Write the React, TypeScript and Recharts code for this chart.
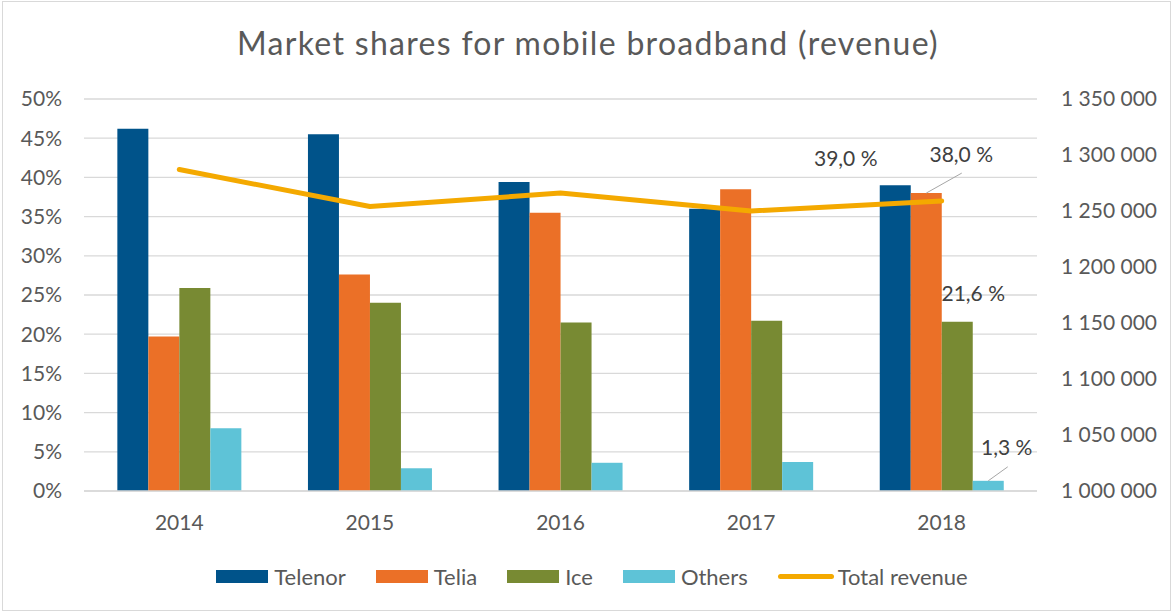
import React from 'react';
import {
  ComposedChart,
  Bar,
  Line,
  XAxis,
  YAxis,
  CartesianGrid,
  Legend,
  LabelList,
  Customized,
} from 'recharts';

// ---- data ----
const years = ['2014', '2015', '2016', '2017', '2018'];
const telenor = [46.2, 45.5, 39.4, 36.0, 39.0];
const telia = [19.7, 27.6, 35.5, 38.5, 38.0];
const ice = [25.9, 24.0, 21.5, 21.7, 21.6];
const others = [8.0, 2.9, 3.6, 3.7, 1.3];
const totalRevenue = [1287000, 1254000, 1266000, 1250000, 1259000];
const percentTicks = [0, 5, 10, 15, 20, 25, 30, 35, 40, 45, 50];
const revenueTicks = [1000000, 1050000, 1100000, 1150000, 1200000, 1250000, 1300000, 1350000];
const seriesNames = ['Telenor', 'Telia', 'Ice', 'Others', 'Total revenue'];
const labelledIndex = 4; // 2018

const data = years.map((y, i) => ({
  year: y,
  telenor: telenor[i],
  telia: telia[i],
  ice: ice[i],
  others: others[i],
  total: totalRevenue[i],
}));

// ---- styles ----
const FONT = "Lato, 'Open Sans', sans-serif";
const AXIS_COLOR = '#595959';
const LABEL_COLOR = '#404040';
const GRID = '#d9d9d9';
const COLORS = ['#00538A', '#EB7027', '#788A33', '#5EC3D7', '#F4A900'];

const fmtPct = (v: number) => `${v.toFixed(1).replace('.', ',')} %`;
const fmtRev = (v: number) => v.toLocaleString('en-US').replace(/,/g, '\u00a0');

type LabelCfg = { dx: number; dy: number; leader?: [number, number] };

const makeLabel = (cfg: LabelCfg) => (props: any) => {
  const { x, y, width, value, index } = props;
  if (index !== labelledIndex) return null;
  const cx = Number(x) + Number(width) / 2;
  const top = Number(y);
  return (
    <g>
      {cfg.leader && (
        <line
          x1={cx}
          y1={top}
          x2={cx + cfg.leader[0]}
          y2={top + cfg.leader[1]}
          stroke="#a6a6a6"
          strokeWidth={1}
        />
      )}
      <text
        x={cx + cfg.dx}
        y={top + cfg.dy}
        textAnchor="middle"
        fontSize={21}
        fontFamily={FONT}
        fill={LABEL_COLOR}
      >
        {fmtPct(Number(value))}
      </text>
    </g>
  );
};

const renderLegend = () => (
  <div
    style={{
      height: 40,
      display: 'flex',
      justifyContent: 'center',
      alignItems: 'center',
      paddingLeft: 11,
      fontFamily: FONT,
      fontSize: 22,
      color: AXIS_COLOR,
    }}
  >
    {seriesNames.map((name, i) => (
      <div
        key={name}
        style={{ display: 'flex', alignItems: 'center', marginRight: i < seriesNames.length - 1 ? 30 : 0 }}
      >
        {i < 4 ? (
          <div style={{ width: 52, height: 13, background: COLORS[i], marginRight: 6 }} />
        ) : (
          <div
            style={{ width: 56, height: 5, borderRadius: 3, background: COLORS[i], marginRight: 4 }}
          />
        )}
        <span>{name}</span>
      </div>
    ))}
  </div>
);

const Title = () => (
  <text
    x={588}
    y={55}
    textAnchor="middle"
    fontSize={32}
    letterSpacing={1.3}
    fontFamily={FONT}
    fill={AXIS_COLOR}
  >
    Market shares for mobile broadband (revenue)
  </text>
);

export default function App() {
  return (
    <div style={{ position: 'absolute', left: 0, top: 0, width: 1173, height: 613, background: '#fff' }}>
      <div
        style={{
          position: 'absolute',
          left: 2,
          top: 1,
          width: 1169,
          height: 610,
          border: `1px solid ${GRID}`,
          boxSizing: 'border-box',
        }}
      />
      <ComposedChart
        width={1173}
        height={613}
        data={data}
        margin={{ top: 99, right: 0, bottom: 17, left: 0 }}
        barCategoryGap="17.5%"
        barGap={0}
        style={{ position: 'relative' }}
      >
        <CartesianGrid yAxisId="pct" vertical={false} stroke={GRID} strokeWidth={1.3} />
        <XAxis
          dataKey="year"
          height={65}
          tickSize={0}
          tickMargin={24}
          tickLine={false}
          axisLine={{ stroke: GRID, strokeWidth: 1.3 }}
          tick={{ fill: AXIS_COLOR, fontSize: 21, fontFamily: FONT }}
        />
        <YAxis
          yAxisId="pct"
          orientation="left"
          width={84}
          domain={[0, 50]}
          ticks={percentTicks}
          tickFormatter={(v: number) => `${v}%`}
          tickSize={0}
          tickMargin={22}
          tickLine={false}
          axisLine={false}
          interval={0}
          tick={{ fill: AXIS_COLOR, fontSize: 21, fontFamily: FONT }}
        />
        <YAxis
          yAxisId="rev"
          orientation="right"
          width={136}
          domain={[1000000, 1350000]}
          ticks={revenueTicks}
          tickFormatter={fmtRev}
          tickSize={0}
          tickMargin={24}
          tickLine={false}
          axisLine={false}
          interval={0}
          tick={{ fill: AXIS_COLOR, fontSize: 21, fontFamily: FONT }}
        />
        <Legend verticalAlign="bottom" content={renderLegend} />
        <Bar yAxisId="pct" dataKey="telenor" name="Telenor" fill={COLORS[0]} isAnimationActive={false}>
          <LabelList dataKey="telenor" content={makeLabel({ dx: -49.5, dy: -19 })} />
        </Bar>
        <Bar yAxisId="pct" dataKey="telia" name="Telia" fill={COLORS[1]} isAnimationActive={false}>
          <LabelList dataKey="telia" content={makeLabel({ dx: 35, dy: -31, leader: [35.5, -20] })} />
        </Bar>
        <Bar yAxisId="pct" dataKey="ice" name="Ice" fill={COLORS[2]} isAnimationActive={false}>
          <LabelList dataKey="ice" content={makeLabel({ dx: 16, dy: -21 })} />
        </Bar>
        <Bar yAxisId="pct" dataKey="others" name="Others" fill={COLORS[3]} isAnimationActive={false}>
          <LabelList dataKey="others" content={makeLabel({ dx: 18.5, dy: -26, leader: [19.5, -14] })} />
        </Bar>
        <Line
          yAxisId="rev"
          type="linear"
          dataKey="total"
          name="Total revenue"
          stroke={COLORS[4]}
          strokeWidth={5}
          strokeLinecap="round"
          strokeLinejoin="round"
          dot={false}
          activeDot={false}
          isAnimationActive={false}
        />
        <Customized component={Title} />
      </ComposedChart>
    </div>
  );
}
